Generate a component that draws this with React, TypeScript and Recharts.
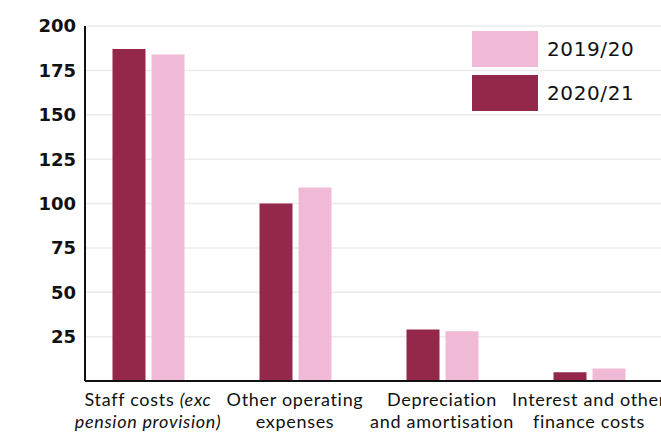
import React from 'react';
import { BarChart, Bar, XAxis, YAxis, CartesianGrid, Legend } from 'recharts';

const MAROON = '#93284a';
const PINK = '#f0b9d6';

const categories = ['Staff costs', 'Other operating expenses', 'Depreciation and amortisation', 'Interest and other finance costs'];
const values2021 = [187, 100, 29, 5];
const values1920 = [184, 109, 28, 7];
const yTicks = [25, 50, 75, 100, 125, 150, 175, 200];

// label lines: [text, italic]
const labelLines: [string, boolean][][][] = [
    [[['Staff costs ', false], ['(exc', true]], [['pension provision)', true]]],
    [[['Other operating', false]], [['expenses', false]]],
    [[['Depreciation', false]], [['and amortisation', false]]],
    [[['Interest and other', false]], [['finance costs', false]]],
];

const data = categories.map((name, i) => ({ name, y2021: values2021[i], y1920: values1920[i] }));

function CatTick(props: any) {
    const { x, y, index } = props;
    const lines = labelLines[index] || [];
    return (
        <text x={x} y={y} textAnchor="middle" fill="#111" fontSize={18} fontFamily="Lato" letterSpacing={0.7}>
            {lines.map((parts, li) => (
                <tspan key={li} x={x} y={y + 25 + li * 22}>
                    {parts.map(([t, it], pi) => (
                        <tspan key={pi} fontStyle={it ? 'italic' : 'normal'}>{t}</tspan>
                    ))}
                </tspan>
            ))}
        </text>
    );
}

function LegendBox() {
    const items = [
        { label: '2019/20', color: PINK },
        { label: '2020/21', color: MAROON },
    ];
    return (
        <div>
            {items.map((it) => (
                <div key={it.label} style={{ display: 'flex', alignItems: 'center', height: 36, marginBottom: 8 }}>
                    <div style={{ width: 66, height: 36, background: it.color }} />
                    <span style={{ marginLeft: 9, fontFamily: 'DejaVu Sans', fontSize: 20, color: '#111', letterSpacing: 0.6 }}>{it.label}</span>
                </div>
            ))}
        </div>
    );
}

export default function App() {
    return (
        <div>
            <style>{'body{margin:0;overflow:hidden}'}</style>
            <BarChart width={661} height={432} data={data} margin={{ top: 26, right: 0, bottom: 0, left: 0 }} barSize={33} barGap={6}>
                <CartesianGrid vertical={false} stroke="#ebebeb" strokeWidth={1.5} />
                <XAxis dataKey="name" height={51} axisLine={{ stroke: '#111', strokeWidth: 2 }}
                    tickLine={false} tickSize={0} tickMargin={0} interval={0} tick={<CatTick />}
                    padding={{ left: -10.5, right: -1.5 }} />
                <YAxis width={85} domain={[0, 200]} ticks={yTicks} axisLine={{ stroke: '#111', strokeWidth: 2 }}
                    tickLine={false} tickSize={0} tickMargin={9}
                    tick={{ fill: '#111', fontSize: 18, fontWeight: 700, fontFamily: 'DejaVu Sans' }} />
                <Legend layout="vertical" align="center" verticalAlign="middle" content={<LegendBox />}
                    wrapperStyle={{ top: 31, left: 472, width: 'auto' }} />
                <Bar dataKey="y2021" name="2020/21" fill={MAROON} isAnimationActive={false} />
                <Bar dataKey="y1920" name="2019/20" fill={PINK} isAnimationActive={false} />
            </BarChart>
        </div>
    );
}
